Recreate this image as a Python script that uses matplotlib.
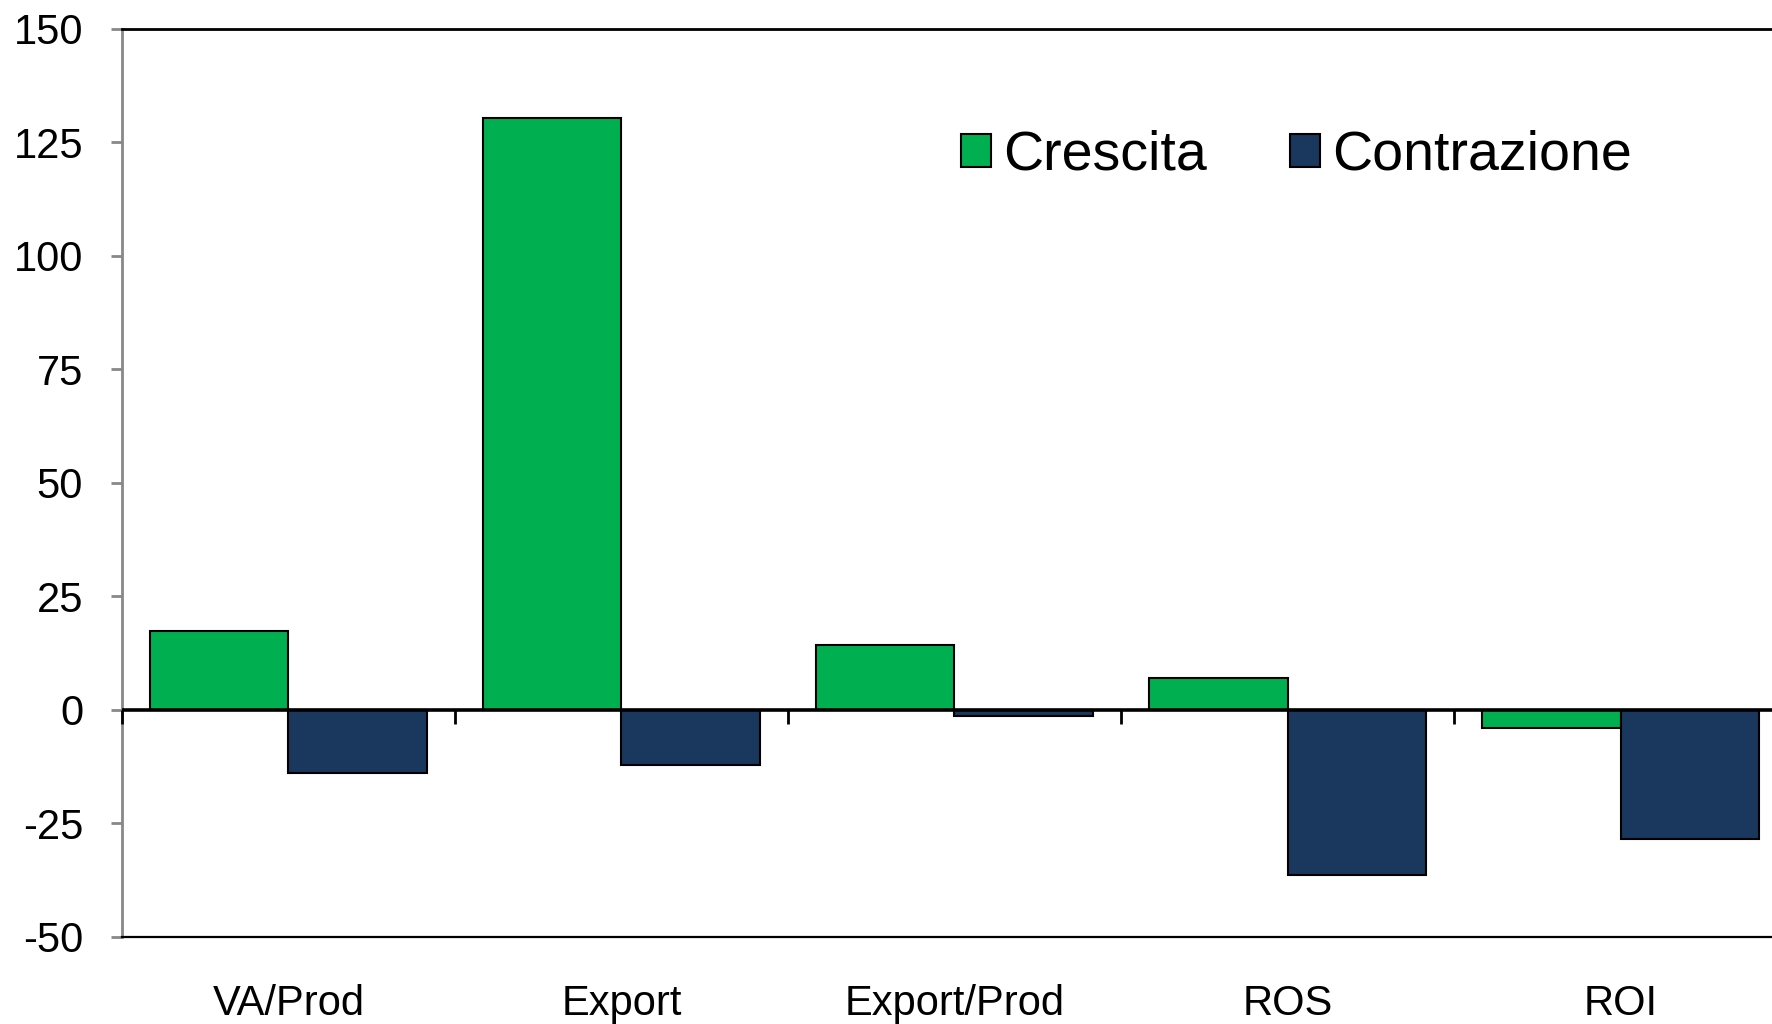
import numpy as np
import matplotlib
matplotlib.use("Agg")
import matplotlib.pyplot as plt

plt.rcParams["font.family"] = ["Liberation Sans", "DejaVu Sans"]

categories = ["VA/Prod", "Export", "Export/Prod", "ROS", "ROI"]
crescita = [17.5, 130.5, 14.2, 7.0, -4.0]
contrazione = [-13.8, -12.1, -1.4, -36.3, -28.4]
y_ticks = [-50, -25, 0, 25, 50, 75, 100, 125, 150]

green = "#00B050"
navy = "#1A375E"

fig = plt.figure(figsize=(17.72, 10.24), dpi=100)
ax = fig.add_axes([0.0688, 0.085, 0.9397, 0.8867])

x = np.arange(len(categories))
w = 0.417
ax.bar(x - w / 2, crescita, w, color=green, edgecolor="black", linewidth=1.5, label="Crescita", zorder=2)
ax.bar(x + w / 2, contrazione, w, color=navy, edgecolor="black", linewidth=1.5, label="Contrazione", zorder=2)

# zero line with small separators between categories
ax.axhline(0, color="black", linewidth=2.6, zorder=3)
bounds = np.arange(len(categories) + 1) - 0.5
ax.vlines(bounds, -3.1, 0, color="black", linewidth=2, zorder=3, clip_on=False)

ax.set_xlim(-0.5, len(categories) - 0.5)
ax.set_ylim(-50, 150)
ax.set_yticks(y_ticks)
ax.set_yticklabels([str(v) for v in y_ticks])
ax.set_xticks(x)
ax.set_xticklabels(categories)

ax.tick_params(axis="y", direction="out", length=8, width=2, color="#888888",
               labelsize=30, pad=20, labelcolor="black")
ax.tick_params(axis="x", length=0, labelsize=30, pad=34)

ax.spines["left"].set_color("#888888")
ax.spines["left"].set_linewidth(2)
ax.spines["top"].set_color("black")
ax.spines["top"].set_linewidth(2)
ax.spines["bottom"].set_color("black")
ax.spines["bottom"].set_linewidth(1.6)
ax.spines["right"].set_visible(False)

ax.legend(loc="center left", bbox_to_anchor=(961 / 1772, 1 - 156 / 1024),
          bbox_transform=fig.transFigure, ncol=2, frameon=False, fontsize=40,
          handlelength=0.54, handleheight=0.54, handletextpad=0.22,
          columnspacing=1.5, borderpad=0, borderaxespad=0)

fig.savefig("out.png", dpi=100)
